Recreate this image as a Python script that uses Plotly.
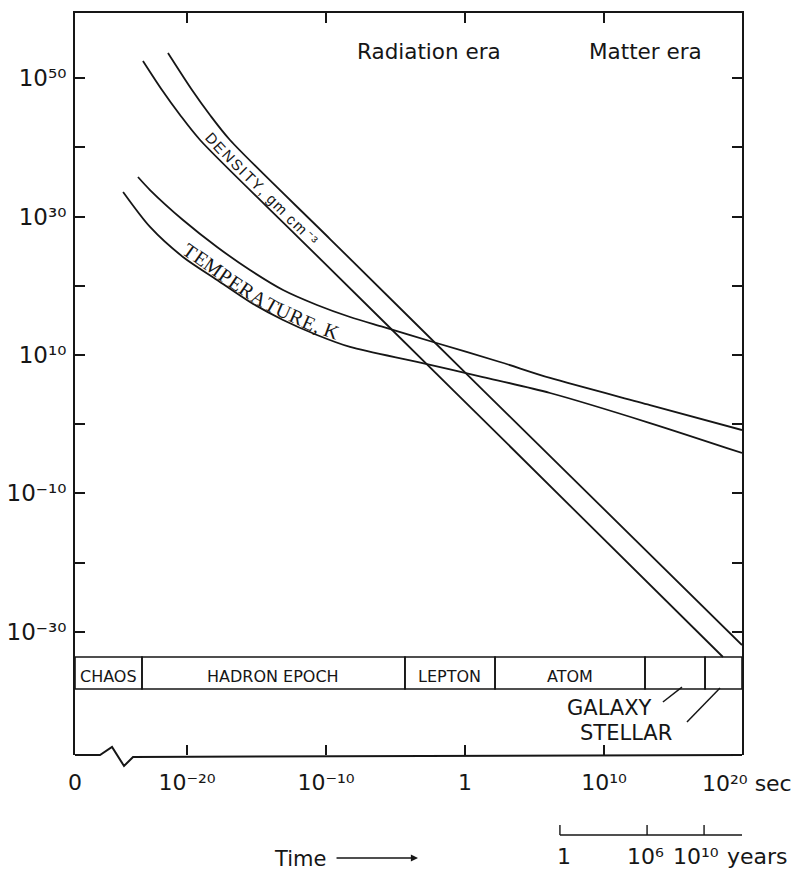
import numpy as np
import plotly.graph_objects as go

# ---------------- data (log10 time in s, log10 of value) ----------------
density_hi_t = [-21.37, -19.64, -18.35, -16.91, -9.71, 1.29, 19.93]
density_hi_v = [53.64, 48.29, 44.68, 41.07, 26.76, 4.94, -31.91]
density_lo_t = [-23.17, -21.80, -20.50, -19.06, -11.87, -0.86, 18.56]
density_lo_v = [52.49, 48.29, 44.68, 41.07, 26.76, 4.94, -33.64]

temp_hi_t = [-23.53, -22.66, -20.29, -17.84, -15.47, -13.09, -10.65, -8.27, -5.90, -2.30, 2.52, 6.12, 13.31, 19.93]
temp_hi_v = [35.72, 33.84, 29.51, 25.61, 22.28, 19.39, 17.23, 15.49, 14.05, 11.88, 8.99, 6.68, 2.77, -0.84]
temp_lo_t = [-24.60, -22.66, -20.29, -17.84, -15.47, -13.09, -10.65, -8.27, -3.45, 1.29, 6.12, 13.31, 19.93]
temp_lo_v = [33.55, 28.50, 24.16, 20.84, 17.66, 15.06, 12.89, 11.16, 8.99, 6.82, 4.51, 0.17, -4.16]

x_tick_vals = [-28.06, -20, -10, 0, 10]
x_tick_text = ["0", "10⁻²⁰", "10⁻¹⁰", "1", "10¹⁰"]
y_tick_vals = [50, 40, 30, 20, 10, 0, -10, -20, -30]
y_tick_text = ["10⁵⁰", "", "10³⁰", "", "10¹⁰", "", "10⁻¹⁰", "", "10⁻³⁰"]

epoch_names = ["CHAOS", "HADRON EPOCH", "LEPTON", "ATOM", "", ""]
epoch_start = [-28.06, -23.24, -4.32, 2.16, 12.95, 17.27]
epoch_end = [-23.24, -4.32, 2.16, 12.95, 17.27, 19.93]
band_top, band_bottom = -33.64, -38.27

year_tick_t = [6.83, 13.1, 17.2]
year_tick_text = ["1", "10⁶", "10¹⁰"]

# ---------------- layout geometry ----------------
W, H = 804, 873
PAGE_OFF = 8                      # default page margin around the figure
PLOT_L, PLOT_R, PLOT_T, PLOT_B = 75, 742, 13, 755   # target plot box in window pixels
ML = PLOT_L - PAGE_OFF
MT = PLOT_T - PAGE_OFF
MR = W - (PLOT_R - PAGE_OFF)
MB = H - (PLOT_B - PAGE_OFF)
PW, PH = PLOT_R - PLOT_L, PLOT_B - PLOT_T
X_RANGE = [-28.06, 19.93]
Y_RANGE = [-47.80, 59.42]
SX = PW / (X_RANGE[1] - X_RANGE[0])
SY = PH / (Y_RANGE[1] - Y_RANGE[0])
INK = "#161616"
SANS = "DejaVu Sans"
SERIF = "Liberation Serif"
HELV = "Liberation Sans"


def py2paper(py):
    return (PLOT_B - py) / PH


def px2paper(px):
    return (px - PLOT_L) / PW


fig = go.Figure()
for t, v in [(density_hi_t, density_hi_v), (density_lo_t, density_lo_v),
             (temp_hi_t, temp_hi_v), (temp_lo_t, temp_lo_v)]:
    fig.add_trace(go.Scatter(x=t, y=v, mode="lines",
                             line=dict(color=INK, width=1.8, shape="spline", smoothing=0.8),
                             hoverinfo="skip", showlegend=False))
# invisible trace to register the top axis
fig.add_trace(go.Scatter(x=[0], y=[0], xaxis="x2", mode="markers",
                         marker=dict(opacity=0), hoverinfo="skip", showlegend=False))

shapes = []
# bottom frame with axis break
bx = [75, 100, 112, 124, 133, 742]
by = [755, 755, 747, 766, 757, 755]
path = "M " + " L ".join(f"{px2paper(x):.4f},{py2paper(y):.4f}" for x, y in zip(bx, by))
shapes.append(dict(type="path", xref="paper", yref="paper", path=path,
                   line=dict(color=INK, width=2)))
# epoch band
for s, e in zip(epoch_start, epoch_end):
    shapes.append(dict(type="rect", xref="x", yref="y", x0=s, x1=e, y0=band_bottom, y1=band_top,
                       line=dict(color=INK, width=1.6)))
# leader lines for GALAXY / STELLAR
shapes.append(dict(type="line", xref="x", yref="y", x0=14.24, y0=-40.14, x1=15.61, y1=-37.98,
                   line=dict(color=INK, width=1.5)))
shapes.append(dict(type="line", xref="x", yref="y", x0=15.97, y0=-43.03, x1=18.35, y1=-38.12,
                   line=dict(color=INK, width=1.5)))
# years axis
yl = py2paper(835)
shapes.append(dict(type="line", xref="x", yref="paper", x0=year_tick_t[0], x1=X_RANGE[1],
                   y0=yl, y1=yl, line=dict(color=INK, width=1.6)))
for t in year_tick_t:
    shapes.append(dict(type="line", xref="x", yref="paper", x0=t, x1=t, y0=yl, y1=py2paper(825),
                       line=dict(color=INK, width=1.4)))

ann = []
for name, s, e in zip(epoch_names, epoch_start, epoch_end):
    if name:
        ann.append(dict(x=(s + e) / 2, y=(band_top + band_bottom) / 2, xref="x", yref="y",
                        text=name, showarrow=False, yshift=-3,
                        font=dict(family=SANS, size=16, color=INK)))
ann.append(dict(x=10.43, y=-41.30, xref="x", yref="y", text="GALAXY", showarrow=False,
                yshift=2, borderpad=0, font=dict(family=SANS, size=21, color=INK)))
ann.append(dict(x=11.58, y=-44.40, xref="x", yref="y", text="STELLAR", showarrow=False,
                yshift=-2, borderpad=0, font=dict(family=SANS, size=21, color=INK)))
ann.append(dict(x=-2.59, y=53.9, xref="x", yref="y", text="Radiation era", showarrow=False,
                font=dict(family=SANS, size=21.5, color=INK)))
ann.append(dict(x=12.99, y=53.9, xref="x", yref="y", text="Matter era", showarrow=False,
                font=dict(family=SANS, size=21.5, color=INK)))
ann.append(dict(x=16.9, y=py2paper(783), xref="x", yref="paper", text="10²⁰ sec",
                showarrow=False, xanchor="left", yanchor="middle",
                font=dict(family=SANS, size=22, color=INK)))
year_label_shift = [4, -2, -8]
for t, txt, dx in zip(year_tick_t, year_tick_text, year_label_shift):
    ann.append(dict(x=t, y=py2paper(856), xref="x", yref="paper", text=txt, showarrow=False,
                    xshift=dx, xanchor="center", yanchor="middle",
                    font=dict(family=SANS, size=22, color=INK)))
ann.append(dict(x=18.56, y=py2paper(856), xref="x", yref="paper", text="years", showarrow=False,
                xanchor="left", yanchor="middle", xshift=2,
                font=dict(family=SANS, size=22, color=INK)))
ann.append(dict(x=-11.87, y=py2paper(859), xref="x", yref="paper", text="Time", showarrow=False,
                xanchor="center", yanchor="middle", font=dict(family=SANS, size=21, color=INK)))
ann.append(dict(x=-3.38, y=py2paper(858), xref="x", yref="paper", text="", showarrow=True,
                ax=-83, ay=0, arrowhead=2, arrowsize=1.1, arrowwidth=1.3, arrowcolor=INK,
                standoff=0))

CHAR_W = {"T": .611, "E": .611, "M": .889, "P": .556, "R": .667, "A": .722, "U": .722,
          ",": .25, " ": .25, "K": .722, "D": .722, "N": .722, "S": .667, "I": .3,
          "Y": .667, "g": .556, "m": .833, "c": .5, "⁻": .4, "³": .35}


def label_along(text, lo_t, lo_v, hi_t, hi_v, frac, t_first, t_last, size, family):
    ts = np.linspace(t_first, t_last, 600)
    vh = np.interp(ts, hi_t, hi_v)
    vl = np.interp(ts, lo_t, lo_v)
    guide = vh + frac * (vl - vh)
    px, py = ts * SX, -guide * SY
    s = np.concatenate([[0], np.cumsum(np.hypot(np.diff(px), np.diff(py)))])
    w = np.array([CHAR_W.get(ch, .5) for ch in text])
    c = np.cumsum(w) - w / 2
    c = (c - c[0]) / (c[-1] - c[0]) * s[-1]
    out = []
    for ch, ci in zip(text, c):
        if ch == " ":
            continue
        i = int(np.clip(np.searchsorted(s, ci), 1, len(s) - 1))
        ang = float(np.degrees(np.arctan2(py[i] - py[i - 1], px[i] - px[i - 1])))
        out.append(dict(x=float(np.interp(ci, s, ts)), y=float(np.interp(ci, s, guide)),
                        xref="x", yref="y", text=ch, showarrow=False, textangle=ang,
                        xanchor="center", yanchor="middle",
                        font=dict(family=family, size=size, color=INK)))
    return out


ann += label_along("TEMPERATURE, K", temp_lo_t, temp_lo_v, temp_hi_t, temp_hi_v,
                   0.7, -19.78, -9.57, 20, SERIF)
ann += label_along("DENSITY, gm cm⁻³", density_lo_t, density_lo_v, density_hi_t, density_hi_v,
                   0.6, -18.2, -10.9, 15, HELV)

fig.update_layout(
    width=W, height=H, autosize=False,
    margin=dict(l=ML, r=MR, t=MT, b=MB, autoexpand=False),
    paper_bgcolor="white", plot_bgcolor="white",
    showlegend=False,
    xaxis=dict(range=X_RANGE, tickvals=x_tick_vals, ticktext=x_tick_text, automargin=False,
               ticks="inside", ticklen=10, tickwidth=1.5, tickcolor=INK,
               showline=False, showgrid=False, zeroline=False,
               tickfont=dict(family=SANS, size=22, color=INK), ticklabelstandoff=12),
    xaxis2=dict(range=X_RANGE, overlaying="x", side="top", tickvals=[-20, -10, 0, 10],
                ticks="inside", ticklen=10, tickwidth=1.5, tickcolor=INK, automargin=False,
                showticklabels=False, showline=True, linewidth=2, linecolor=INK,
                showgrid=False, zeroline=False),
    yaxis=dict(range=Y_RANGE, tickvals=y_tick_vals, ticktext=y_tick_text, automargin=False,
               ticks="inside", ticklen=10, tickwidth=1.5, tickcolor=INK,
               showline=True, linewidth=2, linecolor=INK, mirror="ticks",
               showgrid=False, zeroline=False,
               tickfont=dict(family=SANS, size=23, color=INK), ticklabelstandoff=2),
    shapes=shapes, annotations=ann,
)

fig.write_html("out.html")
